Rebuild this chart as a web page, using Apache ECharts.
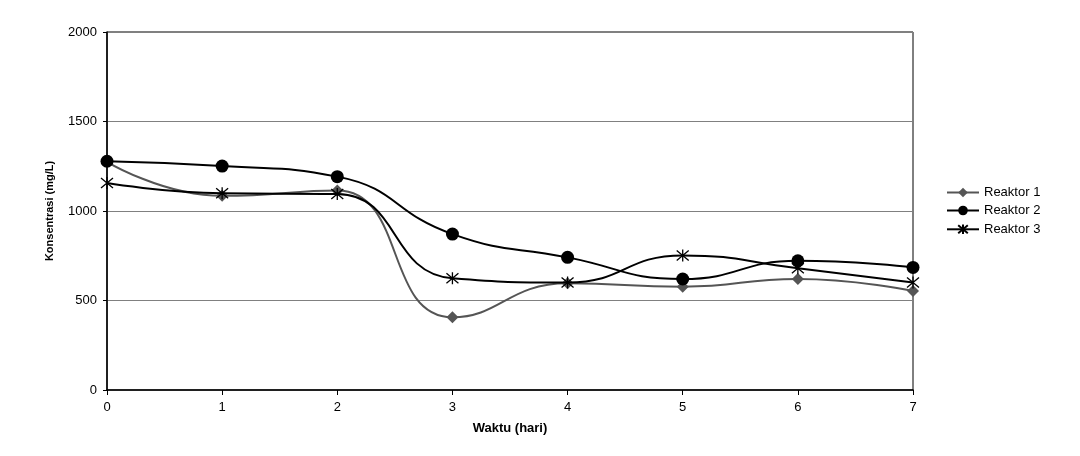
<!DOCTYPE html>
<html>
<head>
<meta charset="utf-8">
<script src="https://cdn.jsdelivr.net/npm/echarts@6/dist/echarts.min.js"></script>
<style>
  html, body { margin: 0; padding: 0; background: #fff; }
  #chart { width: 1080px; height: 456px; }
</style>
</head>
<body>
<div id="chart"></div>
<script>
const days = ['0', '1', '2', '3', '4', '5', '6', '7']
const reaktor1 = [1275, 1085, 1115, 406, 596, 577, 620, 553]
const reaktor2 = [1278, 1251, 1192, 871, 741, 620, 722, 685]
const reaktor3 = [1156, 1099, 1095, 624, 601, 752, 680, 601]
const yTicks = { min: 0, max: 2000, step: 500 }

// asterisk marker (X plus vertical bar), drawn as stroke
const starPath = 'path://M0,0L10,10M10,0L0,10M5,-1L5,11'

const font = 'Liberation Sans, Arial, sans-serif'

const chart = echarts.init(document.getElementById('chart'))
chart.setOption({
  animation: false,
  backgroundColor: '#fff',
  grid: {
    left: 107,
    right: 167,
    top: 32,
    bottom: 66,
    show: true,
    borderColor: '#000',
    borderWidth: 1,
  },
  legend: {
    orient: 'vertical',
    left: 946,
    top: 186,
    padding: 0,
    itemWidth: 32,
    itemHeight: 12,
    itemGap: 5,
    textStyle: { fontFamily: font, fontSize: 13, color: '#000' },
    data: ['Reaktor 1', 'Reaktor 2', 'Reaktor 3'],
  },
  xAxis: {
    type: 'category',
    data: days,
    boundaryGap: false,
    name: 'Waktu (hari)',
    nameLocation: 'middle',
    nameGap: 32,
    nameTextStyle: { fontFamily: font, fontSize: 13, fontWeight: 'bold', color: '#000' },
    axisLine: { lineStyle: { color: '#000', width: 1.5 } },
    axisTick: { show: true, length: 5, alignWithLabel: true, lineStyle: { color: '#000' } },
    axisLabel: { fontFamily: font, fontSize: 13, color: '#000', margin: 11 },
    splitLine: { show: false },
  },
  yAxis: {
    type: 'value',
    min: yTicks.min,
    max: yTicks.max,
    interval: yTicks.step,
    name: 'Konsentrasi (mg/L)',
    nameLocation: 'middle',
    nameGap: 52,
    nameTextStyle: { fontFamily: font, fontSize: 11, fontWeight: 'bold', color: '#000' },
    axisLine: { show: true, lineStyle: { color: '#000', width: 1.5 } },
    axisTick: { show: true, length: 4, lineStyle: { color: '#000' } },
    axisLabel: { fontFamily: font, fontSize: 13, color: '#000', margin: 10, formatter: v => String(v) },
    splitLine: { show: true, lineStyle: { color: '#808080', width: 1 } },
  },
  series: [
    {
      name: 'Reaktor 1',
      type: 'line',
      data: reaktor1,
      smooth: 0.5,
      symbol: 'diamond',
      symbolSize: 12,
      lineStyle: { color: '#555', width: 2 },
      itemStyle: { color: '#555' },
      z: 2,
    },
    {
      name: 'Reaktor 2',
      type: 'line',
      data: reaktor2,
      smooth: 0.5,
      symbol: 'circle',
      symbolSize: 13,
      lineStyle: { color: '#000', width: 2 },
      itemStyle: { color: '#000' },
      z: 3,
    },
    {
      name: 'Reaktor 3',
      type: 'line',
      data: reaktor3,
      smooth: 0.5,
      symbol: starPath,
      symbolSize: 12,
      lineStyle: { color: '#000', width: 2 },
      itemStyle: { color: 'none', borderColor: '#000', borderWidth: 1.3 },
      z: 4,
    },
  ],
})
</script>
</body>
</html>
